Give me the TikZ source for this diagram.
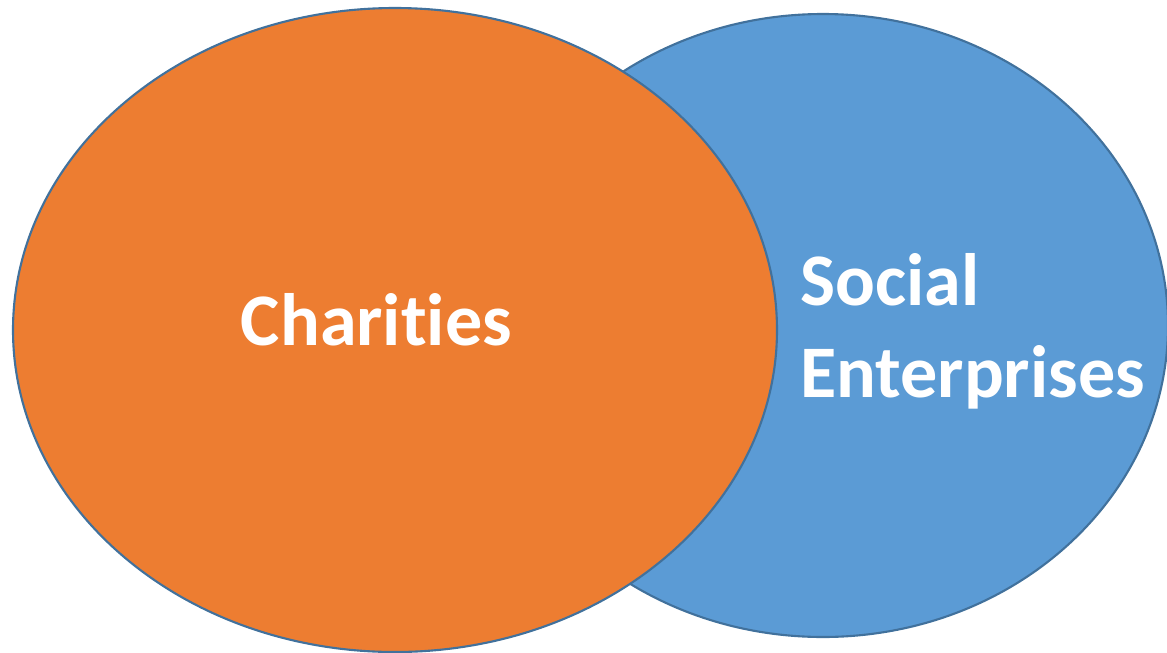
\documentclass[tikz,border=0pt]{standalone}
\usepackage{fontspec}
\setmainfont{Carlito}[Ligatures=NoCommon]
\definecolor{charorange}{HTML}{ED7D31}
\definecolor{socblue}{HTML}{5B9BD5}
\definecolor{rimblue}{HTML}{41719C}
\tikzset{
  bubble/.style={draw=rimblue,line width=1.2pt},
  bubbletext/.style={text=white,font=\fontsize{42.2}{51}\bfseries,inner sep=0pt}
}
\begin{document}
\begin{tikzpicture}[y=-1cm]
\useasboundingbox (0,0) rectangle (23.34,13.04);
\draw[bubble,fill=socblue] (16.46,6.51) ellipse [x radius=6.90,y radius=6.23];
\draw[bubble,fill=charorange] (7.90,6.60) ellipse [x radius=7.64,y radius=6.44];
\node[bubbletext,anchor=base] (charities) at (7.53,6.90) {Charities};
\node[bubbletext,anchor=base west] (social) at (16.00,6.10) {Social};
\node[bubbletext,anchor=base west] (enterprises) at (16.00,7.94) {Enterprises};
\end{tikzpicture}
\end{document}
